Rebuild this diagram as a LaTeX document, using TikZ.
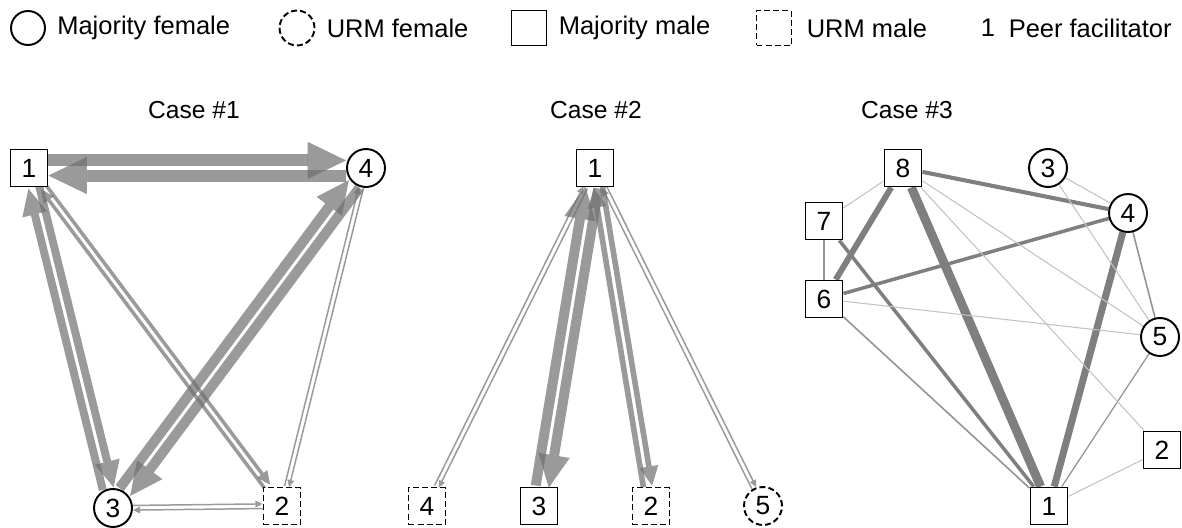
\documentclass[tikz,border=0pt]{standalone}
\usepackage{fontspec}
\setmainfont{Liberation Sans}
\usetikzlibrary{arrows.meta, positioning}

\pgfdeclarelayer{edges}
\pgfsetlayers{edges,main}

\definecolor{flowgray}{HTML}{6F6F6F}
\definecolor{tiedark}{HTML}{7F7F7F}
\definecolor{tiemid}{HTML}{939393}
\definecolor{tielight}{HTML}{C2C2C2}

\tikzset{
  person/.style={draw, line width=1.1pt, fill=white, inner sep=0pt,
    font=\fontsize{15}{17}\selectfont},
  fem/.style={person, circle, minimum size=0.76cm},
  male/.style={person, rectangle, minimum size=0.74cm},
  urm/.style={dash pattern=on 3.4pt off 1.8pt},
  flow/.style={draw=flowgray, opacity=0.7},
  tie/.style={draw=#1},
  key/.style={inner sep=0pt, font=\fontsize{14.5}{17}\selectfont},
  casetitle/.style={inner sep=0pt, font=\fontsize{14}{17}\selectfont},
}

% one directed arc, pushed to the left of its direction
\newcommand\oneway[3]{%
  \pgfmathanglebetweenpoints{\pgfpointanchor{#1}{center}}{\pgfpointanchor{#2}{center}}%
  \let\wayang\pgfmathresult
  \pgfmathsetmacro\wayoff{#3/2+0.9}%
  \pgfmathsetmacro\waylen{1.5+3*#3}%
  \pgfmathsetmacro\waywid{1.5+2.9*#3}%
  \draw[flow, line width=#3pt,
    -{Triangle[length=\waylen pt, width=\waywid pt, line width=0pt]},
    transform canvas={shift={({\wayang+90}:\wayoff pt)}}] (#1) -- (#2);}
% both directions with the same weight
\newcommand\twoway[3]{\oneway{#1}{#2}{#3}\oneway{#2}{#1}{#3}}

\begin{document}
\begin{tikzpicture}[x=0.02cm, y=-0.02cm]
  \useasboundingbox (0,0) rectangle (1182,527);

  % legend
  \node[fem, minimum size=0.68cm] (kfem) at (28,28) {};
  \node[key, right=0.22cm of kfem] (kfemtxt) {Majority female};
  \node[fem, urm, minimum size=0.7cm] (kurmf) at (297,28) {};
  \node[key, right=0.22cm of kurmf] (kurmftxt) {URM female};
  \node[male, minimum size=0.7cm] (kmale) at (529,28) {};
  \node[key, right=0.22cm of kmale] (kmaletxt) {Majority male};
  \node[male, urm, minimum size=0.7cm] (kurmm) at (774,28) {};
  \node[key, right=0.28cm of kurmm] (kurmmtxt) {URM male};
  \node[key] (kpeer) at (988,28) {1};
  \node[key, right=0.26cm of kpeer] (kpeertxt) {Peer facilitator};

  % titles
  \node[casetitle] (t1) at (194,110) {Case \#1};
  \node[casetitle] (t2) at (596,110) {Case \#2};
  \node[casetitle] (t3) at (907,110) {Case \#3};

  % case 1
  \node[male] (a1) at (29,168) {1};
  \node[fem] (a4) at (366,168) {4};
  \node[fem] (a3) at (113,508) {3};
  \node[male, urm] (a2) at (282,506) {2};

  % case 2
  \node[male] (b1) at (595,168) {1};
  \node[male, urm] (b4) at (427,506) {4};
  \node[male] (b3) at (539,506) {3};
  \node[male, urm] (b2) at (651,506) {2};
  \node[fem, urm] (b5) at (763,506) {5};

  % case 3
  \node[male] (c8) at (903,168) {8};
  \node[fem] (c3) at (1048,168) {3};
  \node[fem] (c4) at (1128,213) {4};
  \node[male] (c7) at (824,221) {7};
  \node[male] (c6) at (824,299) {6};
  \node[fem] (c5) at (1160,337) {5};
  \node[male] (c2) at (1162,450) {2};
  \node[male] (c1) at (1049,506) {1};

  \begin{pgfonlayer}{edges}
    % case 1 arcs
    \twoway{a1}{a4}{6.8}
    \twoway{a1}{a3}{4.5}
    \twoway{a3}{a4}{5.7}
    \twoway{a1}{a2}{2}
    \twoway{a4}{a2}{0.85}
    \twoway{a3}{a2}{0.85}

    % case 2 arcs
    \twoway{b1}{b3}{5.7}
    \twoway{b1}{b2}{3.2}
    \twoway{b1}{b4}{0.85}
    \twoway{b1}{b5}{0.85}

    % case 3 ties
    \draw[tie=tiedark, line width=5.1pt] (c8) -- (c1);
    \draw[tie=tiedark, line width=4pt] (c4) -- (c1);
    \draw[tie=tiedark, line width=3.4pt] (c8) -- (c6);
    \draw[tie=tiedark, line width=2.3pt] (c8) -- (c4);
    \draw[tie=tiedark, line width=2pt] (c6) -- (c4);
    \draw[tie=tiedark, line width=2pt] (c7) -- (c1);
    \draw[tie=tiemid, line width=0.9pt] (c6) -- (c1);
    \draw[tie=tiemid, line width=0.9pt] (c4) -- (c5);
    \draw[tie=tiemid, line width=0.7pt] (c5) -- (c1);
    \draw[tie=tiemid, line width=0.6pt] (c7) -- (c6);
    \foreach \u/\v in {c8/c7, c8/c5, c8/c2, c6/c5, c3/c4, c3/c5, c2/c1}
      \draw[tie=tielight, line width=0.6pt] (\u) -- (\v);
  \end{pgfonlayer}
\end{tikzpicture}
\end{document}
